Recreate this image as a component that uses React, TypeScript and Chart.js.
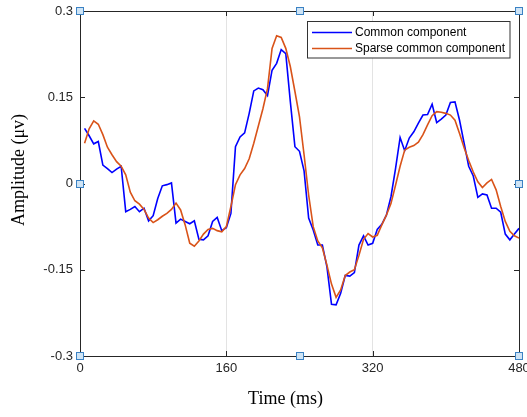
import React, { useEffect, useRef } from "react";
import { Chart, registerables } from "chart.js";

Chart.register(...registerables);

const timeMs = [
  5, 10, 15, 20, 25, 30, 35, 40, 45, 50, 55, 60, 65, 70, 75, 80, 85, 90, 95, 100,
  105, 110, 115, 120, 125, 130, 135, 140, 145, 150, 155, 160, 165, 170, 175, 180, 185, 190, 195, 200,
  205, 210, 215, 220, 225, 230, 235, 240, 245, 250, 255, 260, 265, 270, 275, 280, 285, 290, 295, 300,
  305, 310, 315, 320, 325, 330, 335, 340, 345, 350, 355, 360, 365, 370, 375, 380, 385, 390, 395, 400,
  405, 410, 415, 420, 425, 430, 435, 440, 445, 450, 455, 460, 465, 470, 475, 480,
];

const commonComponent = [
  0.096, 0.083, 0.069, 0.073, 0.032, 0.026, 0.019, 0.025, 0.03, -0.049, -0.045, -0.04, -0.049, -0.043, -0.065, -0.056, -0.026, -0.004, -0.002, 0.001,
  -0.069, -0.062, -0.066, -0.07, -0.065, -0.097, -0.098, -0.091, -0.066, -0.059, -0.082, -0.077, -0.052, 0.064, 0.081, 0.088, 0.122, 0.161, 0.166, 0.163,
  0.153, 0.197, 0.209, 0.233, 0.226, 0.142, 0.064, 0.056, 0.022, -0.06, -0.081, -0.107, -0.107, -0.145, -0.21, -0.211, -0.191, -0.16, -0.161, -0.155,
  -0.107, -0.091, -0.107, -0.104, -0.08, -0.071, -0.055, -0.023, 0.026, 0.08, 0.057, 0.079, 0.09, 0.105, 0.119, 0.12, 0.138, 0.106, 0.112, 0.119,
  0.141, 0.142, 0.11, 0.07, 0.03, 0.013, -0.024, -0.018, -0.02, -0.043, -0.043, -0.05, -0.088, -0.098, -0.088, -0.078,
];

const sparseCommonComponent = [
  0.07, 0.095, 0.109, 0.103, 0.085, 0.063, 0.05, 0.038, 0.03, 0.015, -0.015, -0.03, -0.036, -0.045, -0.06, -0.068, -0.063, -0.057, -0.052, -0.045,
  -0.034, -0.046, -0.072, -0.104, -0.109, -0.1, -0.088, -0.08, -0.078, -0.082, -0.084, -0.075, -0.04, -0.002, 0.015, 0.026, 0.043, 0.07, 0.1, 0.13,
  0.165, 0.235, 0.257, 0.254, 0.235, 0.203, 0.16, 0.116, 0.05, -0.02, -0.075, -0.1, -0.112, -0.142, -0.175, -0.198, -0.185, -0.16, -0.154, -0.15,
  -0.125, -0.097, -0.087, -0.093, -0.09, -0.072, -0.055, -0.035, -0.003, 0.03, 0.058, 0.063, 0.066, 0.072, 0.085, 0.102, 0.118, 0.125, 0.124, 0.122,
  0.119, 0.11, 0.087, 0.062, 0.04, 0.02, 0.003, -0.007, 0.001, 0.007, -0.011, -0.04, -0.066, -0.083, -0.091, -0.095,
];

const xTicks = [0, 160, 320, 480];
const yTicks = [-0.3, -0.15, 0, 0.15, 0.3];
const yTickLabels = ["-0.3", "-0.15", "0", "0.15", "0.3"];
const seriesNames = ["Common component", "Sparse common component"];
const seriesColors = ["#0000FF", "#D95319"];

const decorPlugin = {
  id: "decor",
  afterDraw(chart: any) {
    const ctx = chart.ctx;
    const { left, right, top, bottom } = chart.chartArea;
    const xs = chart.scales.x;
    const ys = chart.scales.y;
    ctx.save();
    // box
    ctx.strokeStyle = "#262626";
    ctx.lineWidth = 1;
    ctx.beginPath();
    ctx.rect(Math.round(left) + 0.5, Math.round(top) + 0.5, Math.round(right - left), Math.round(bottom - top));
    ctx.stroke();
    // tick marks inward
    const tl = 5;
    ctx.beginPath();
    xTicks.forEach((v) => {
      const px = Math.round(xs.getPixelForValue(v)) + 0.5;
      ctx.moveTo(px, bottom);
      ctx.lineTo(px, bottom - tl);
      ctx.moveTo(px, top);
      ctx.lineTo(px, top + tl);
    });
    yTicks.forEach((v) => {
      const py = Math.round(ys.getPixelForValue(v)) + 0.5;
      ctx.moveTo(left, py);
      ctx.lineTo(left + tl, py);
      ctx.moveTo(right, py);
      ctx.lineTo(right - tl, py);
    });
    ctx.stroke();

    // legend
    const lx = 307.5, ly = 21.5, lw = 202.5, lh = 36.5;
    ctx.fillStyle = "#ffffff";
    ctx.fillRect(lx, ly, lw, lh);
    ctx.strokeStyle = "#333333";
    ctx.strokeRect(lx, ly, lw, lh);
    ctx.font = '12px "Liberation Sans", Arial, sans-serif';
    ctx.textBaseline = "middle";
    ctx.textAlign = "left";
    seriesNames.forEach((name, i) => {
      const yy = 32.5 + i * 16;
      ctx.strokeStyle = seriesColors[i];
      ctx.lineWidth = 1.6;
      ctx.beginPath();
      ctx.moveTo(312, yy);
      ctx.lineTo(352, yy);
      ctx.stroke();
      ctx.fillStyle = "#000000";
      ctx.fillText(name, 355, yy);
    });

    // axis titles
    ctx.fillStyle = "#000000";
    ctx.font = '18px "Liberation Serif", "Times New Roman", serif';
    ctx.textAlign = "center";
    ctx.textBaseline = "alphabetic";
    ctx.fillText("Time (ms)", 285.5, 404);
    ctx.save();
    ctx.translate(24, 170);
    ctx.rotate(-Math.PI / 2);
    ctx.fillText("Amplitude (\u03bcv)", 0, 0);
    ctx.restore();

    // selection handles
    const cx = (left + right) / 2;
    const cy = (top + bottom) / 2;
    const pts = [
      [left, top], [cx, top], [right, top],
      [left, cy], [right, cy],
      [left, bottom], [cx, bottom], [right, bottom],
    ];
    pts.forEach(([px, py]) => {
      const x0 = Math.round(px) - 3.5;
      const y0 = Math.round(py) - 3.5;
      ctx.fillStyle = "#cfe4f5";
      ctx.fillRect(x0, y0, 7, 7);
      ctx.strokeStyle = "#3b82c4";
      ctx.lineWidth = 1;
      ctx.strokeRect(x0, y0, 7, 7);
    });
    ctx.restore();
  },
};

export default function App() {
  const ref = useRef<HTMLCanvasElement | null>(null);
  useEffect(() => {
    if (!ref.current) return;
    const chart = new Chart(ref.current, {
      type: "line",
      data: {
        datasets: [
          {
            label: seriesNames[0],
            data: timeMs.map((t, i) => ({ x: t, y: commonComponent[i] })),
            borderColor: seriesColors[0],
            borderWidth: 1.6,
            pointRadius: 0,
            tension: 0,
            fill: false,
            order: 1,
          },
          {
            label: seriesNames[1],
            data: timeMs.map((t, i) => ({ x: t, y: sparseCommonComponent[i] })),
            borderColor: seriesColors[1],
            borderWidth: 1.6,
            pointRadius: 0,
            tension: 0,
            fill: false,
            order: 0,
          },
        ],
      },
      options: {
        responsive: false,
        animation: false,
        layout: { padding: { left: 0, top: 11, right: 8, bottom: 0 } },
        plugins: { legend: { display: false }, tooltip: { enabled: false } },
        scales: {
          x: {
            type: "linear",
            min: 0,
            max: 480,
            afterBuildTicks: (s: any) => {
              s.ticks = xTicks.map((v) => ({ value: v }));
            },
            afterFit: (s: any) => {
              s.height = 61;
              s.paddingLeft = 0;
              s.paddingRight = 0;
            },
            ticks: {
              autoSkip: false,
              maxRotation: 0,
              padding: 5,
              color: "#262626",
              font: { family: '"Liberation Sans", Arial, sans-serif', size: 13 },
              callback: (v: any) => String(v),
            },
            grid: {
              drawTicks: false,
              color: (c: any) => (c.tick && (c.tick.value === 160 || c.tick.value === 320) ? "#e3e3e3" : "rgba(0,0,0,0)"),
              lineWidth: 1,
            },
            border: { display: false },
          },
          y: {
            type: "linear",
            min: -0.3,
            max: 0.3,
            afterBuildTicks: (s: any) => {
              s.ticks = yTicks.map((v) => ({ value: v }));
            },
            afterFit: (s: any) => {
              s.width = 80;
              s.paddingTop = 0;
              s.paddingBottom = 0;
            },
            ticks: {
              autoSkip: false,
              padding: 7,
              color: "#262626",
              font: { family: '"Liberation Sans", Arial, sans-serif', size: 13 },
              callback: (v: any) => {
                const idx = yTicks.findIndex((t) => Math.abs(t - v) < 1e-9);
                return idx >= 0 ? yTickLabels[idx] : "";
              },
            },
            grid: { display: false, drawTicks: false },
            border: { display: false },
          },
        },
      },
      plugins: [decorPlugin],
    });
    return () => chart.destroy();
  }, []);
  return (
    <div style={{ position: "absolute", left: 0, top: 0, width: 527, height: 417, background: "#fff" }}>
      <canvas ref={ref} width={527} height={417} style={{ width: 527, height: 417 }} />
    </div>
  );
}
